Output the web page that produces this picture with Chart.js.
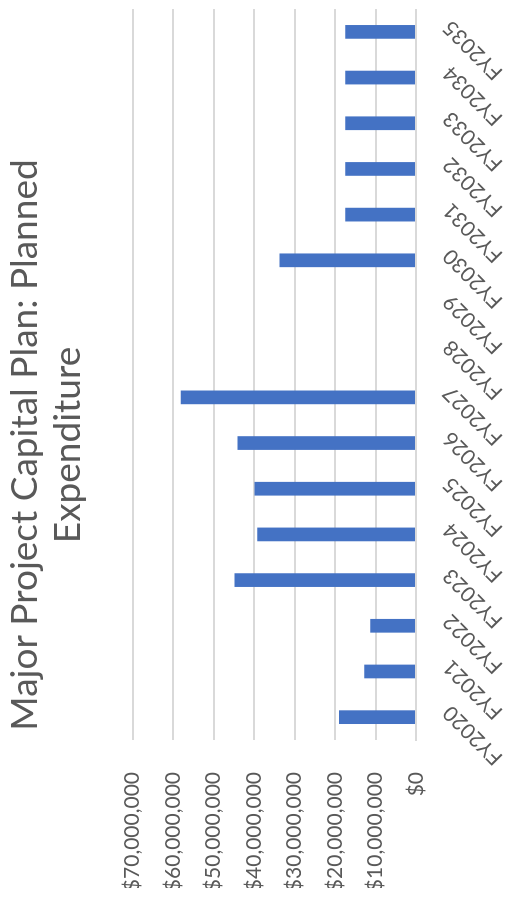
<!DOCTYPE html>
<html>
<head>
<meta charset="utf-8">
<script src="https://cdn.jsdelivr.net/npm/chart.js@4/dist/chart.umd.min.js"></script>
<style>
  html, body { margin: 0; padding: 0; background: #fff; overflow: hidden; }
  #wrap {
    position: absolute; left: 0; top: 0;
    width: 922px; height: 508px;
    transform-origin: 0 0;
    transform: translate(0, 922px) rotate(-90deg);
  }
</style>
</head>
<body>
<div id="wrap"><canvas id="grafico" width="922" height="508"></canvas></div>
<script>
// dados
const anos = ['FY2020', 'FY2021', 'FY2022', 'FY2023', 'FY2024', 'FY2025', 'FY2026', 'FY2027',
              'FY2028', 'FY2029', 'FY2030', 'FY2031', 'FY2032', 'FY2033', 'FY2034', 'FY2035'];
const despesa = [19000000, 12800000, 11300000, 44800000, 39200000, 39900000, 44100000, 58100000,
                 0, 0, 33700000, 17500000, 17500000, 17500000, 17500000, 17500000];
const tituloLinhas = ['Major Project Capital Plan: Planned', 'Expenditure'];
const eixoMax = 70000000;
const eixoPasso = 10000000;

const fonte = 'Lato, "Liberation Sans", sans-serif';
const cinza = '#595959';
const grade = '#d9d9d9';

new Chart(document.getElementById('grafico'), {
    type: 'bar',
    data: {
        labels: anos,
        datasets: [{
            label: 'Planned Expenditure',
            data: despesa,
            backgroundColor: '#4472c4',
            borderWidth: 0,
            categoryPercentage: 1,
            barPercentage: 0.30
        }]
    },
    options: {
        responsive: false,
        animation: false,
        devicePixelRatio: 1,
        layout: { padding: { left: 34, right: 2, top: 0, bottom: 0 } },
        plugins: {
            legend: { display: false },
            tooltip: { enabled: false },
            title: {
                display: true,
                text: tituloLinhas,
                color: cinza,
                font: { family: fonte, size: 37, weight: '400', lineHeight: 1.17 },
                padding: { top: 3, bottom: 43 }
            }
        },
        scales: {
            x: {
                grid: { display: false },
                border: { display: true, color: grade, width: 2 },
                ticks: {
                    color: cinza,
                    font: { family: fonte, size: 21 },
                    minRotation: 45,
                    maxRotation: 45,
                    autoSkip: false,
                    padding: 14,
                    labelOffset: 8
                },
                afterFit: function(eixo) { eixo.height = 92; }
            },
            y: {
                min: 0,
                max: eixoMax,
                grid: { color: grade, lineWidth: 2, drawTicks: false },
                border: { display: false },
                ticks: {
                    stepSize: eixoPasso,
                    color: cinza,
                    font: { family: fonte, size: 21 },
                    padding: 32,
                    callback: v => '$' + v.toLocaleString('en-US')
                },
                afterFit: function(eixo) { eixo.width = 148; }
            }
        }
    }
});
</script>
</body>
</html>
